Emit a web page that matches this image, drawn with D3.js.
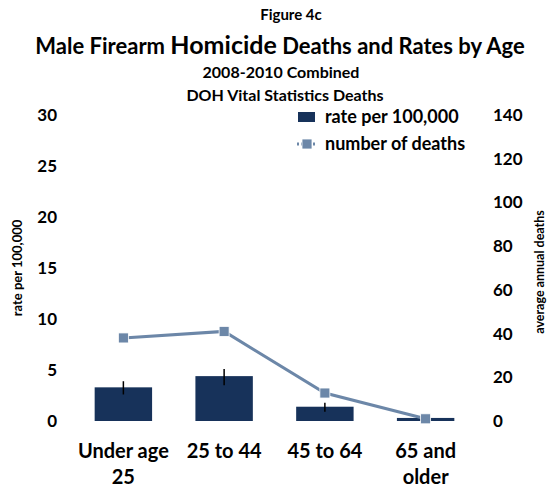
<!DOCTYPE html>
<html><head><meta charset="utf-8">
<script src="https://cdn.jsdelivr.net/npm/d3@7"></script>
<style>body{margin:0;background:#fff}svg{font-family:Lato,"Open Sans",sans-serif;font-weight:bold}</style>
</head><body><svg id="c" width="547" height="490"></svg>
<script>
const categories = ["Under age 25", "25 to 44", "45 to 64", "65 and older"];
const categoryLines = [["Under age", "25"], ["25 to 44"], ["45 to 64"], ["65 and", "older"]];
const rate = [3.3, 4.4, 1.4, 0.3];
const rateLow = [2.6, 3.5, 0.9, 0.2];
const rateHigh = [3.9, 5.1, 1.8, 0.4];
const deaths = [38, 41, 12.8, 1];
const leftTicks = [0, 5, 10, 15, 20, 25, 30];
const rightTicks = [0, 20, 40, 60, 80, 100, 120, 140];

const svg = d3.select("#c");
const barColor = "#17325a", lineColor = "#6c87a8";
const x = d3.scaleBand().domain(categories).range([73, 476]).paddingInner(0.43).paddingOuter(0.215);
const yL = d3.scaleLinear().domain([0, 30]).range([421, 115]);
const yR = d3.scaleLinear().domain([0, 140]).range([421, 115]);

// titles
svg.append("text").attr("x", 291).attr("y", 20).attr("text-anchor", "middle").attr("font-size", 15).text("Figure 4c");
const t = svg.append("text").attr("x", 280).attr("y", 54).attr("text-anchor", "middle").attr("font-size", 22);
t.append("tspan").text("Male Firearm ");
t.append("tspan").attr("font-size", 25).text("Homicide");
t.append("tspan").text(" Deaths and Rates by Age");
svg.append("text").attr("x", 281).attr("y", 78).attr("text-anchor", "middle").attr("font-size", 16).text("2008-2010 Combined");
svg.append("text").attr("x", 285).attr("y", 101).attr("text-anchor", "middle").attr("font-size", 16).text("DOH Vital Statistics Deaths");

// axes
const axL = svg.append("g").attr("transform", "translate(57,0)").call(d3.axisLeft(yL).tickValues(leftTicks).tickSize(0).tickPadding(0));
axL.select(".domain").remove();
axL.selectAll("text").attr("font-size", 17).attr("font-family", "Lato").attr("font-weight", "bold").attr("fill", "#000");
const axR = svg.append("g").attr("transform", "translate(493,0)").call(d3.axisRight(yR).tickValues(rightTicks).tickSize(0).tickPadding(0));
axR.select(".domain").remove();
axR.selectAll("text").attr("font-size", 17).attr("font-family", "Lato").attr("font-weight", "bold").attr("fill", "#000");

svg.append("text").attr("transform", "translate(22,268) rotate(-90)").attr("text-anchor", "middle").attr("font-size", 13).text("rate per 100,000");
svg.append("text").attr("transform", "translate(544,272) rotate(-90)").attr("text-anchor", "middle").attr("font-size", 12.5).text("average annual deaths");

// bars
svg.selectAll("rect.bar").data(categories).join("rect").attr("class", "bar")
  .attr("x", d => x(d)).attr("width", x.bandwidth())
  .attr("y", (d, i) => yL(rate[i])).attr("height", (d, i) => yL(0) - yL(rate[i]))
  .attr("fill", barColor);
// error bars
svg.selectAll("line.err").data(categories).join("line").attr("class", "err")
  .attr("x1", d => x(d) + x.bandwidth() / 2).attr("x2", d => x(d) + x.bandwidth() / 2)
  .attr("y1", (d, i) => yL(rateHigh[i])).attr("y2", (d, i) => yL(rateLow[i]))
  .attr("stroke", "#000").attr("stroke-width", 1.5);

// line
const cx = d => x(d) + x.bandwidth() / 2;
svg.append("path").datum(categories).attr("fill", "none").attr("stroke", lineColor).attr("stroke-width", 3)
  .attr("d", d3.line().x(d => cx(d)).y((d, i) => yR(deaths[i])));
svg.selectAll("rect.pt").data(categories).join("rect").attr("class", "pt")
  .attr("x", d => cx(d) - 5).attr("y", (d, i) => yR(deaths[i]) - 5).attr("width", 10).attr("height", 10)
  .attr("fill", lineColor).attr("stroke", "#fff").attr("stroke-width", 0.8);

// x labels
categories.forEach((c, i) => {
  categoryLines[i].forEach((ln, j) => {
    svg.append("text").attr("x", cx(c)).attr("y", 458 + j * 26).attr("text-anchor", "middle").attr("font-size", 20).text(ln);
  });
});

// legend
svg.append("rect").attr("x", 298).attr("y", 112).attr("width", 17).attr("height", 10).attr("fill", barColor);
svg.append("text").attr("x", 325).attr("y", 123).attr("font-size", 18).text("rate per 100,000");
svg.append("line").attr("x1", 297).attr("x2", 317).attr("y1", 144).attr("y2", 144).attr("stroke", lineColor).attr("stroke-width", 3).attr("stroke-dasharray", "2,2");
svg.append("rect").attr("x", 302).attr("y", 139).attr("width", 10).attr("height", 10).attr("fill", lineColor).attr("stroke", "#fff").attr("stroke-width", 0.8);
svg.append("text").attr("x", 325).attr("y", 150).attr("font-size", 18).text("number of deaths");
</script></body></html>
